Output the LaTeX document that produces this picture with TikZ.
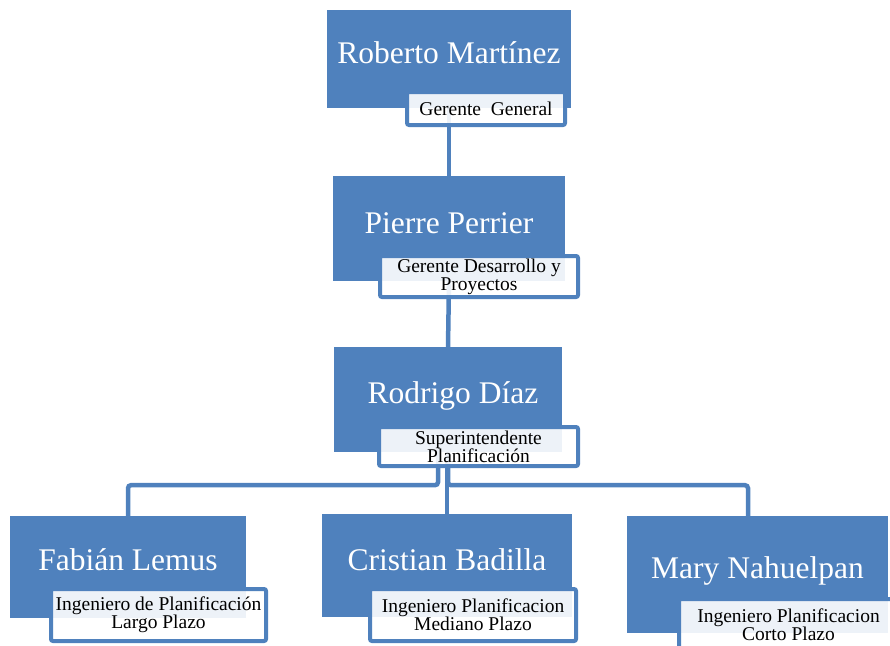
\documentclass[tikz,border=0pt]{standalone}
\usepackage{fontspec}
\setmainfont{Liberation Serif}
\definecolor{obl}{HTML}{4F81BD}
\begin{document}
\begin{tikzpicture}[x=1pt,y=-1pt,
  bigbox/.style={draw=none, fill=obl, inner sep=0pt},
  namet/.style={text=white, font=\fontsize{31.5}{34}\selectfont, anchor=base, inner sep=0pt},
  labbox/.style={draw=obl, line width=4pt, fill=white, fill opacity=0.9, text opacity=1, rounded corners=2pt, inner sep=0pt, align=center, font=\fontsize{19.5}{18}\selectfont},
  conn/.style={draw=obl, line width=4.5pt}]
\useasboundingbox (0,0) rectangle (890,645);
% boxes
\node[bigbox, minimum width=244pt, minimum height=98pt] (B1) at (449,59) {};
\node[bigbox, minimum width=232pt, minimum height=105pt] (B2) at (449,228.5) {};
\node[bigbox, minimum width=228pt, minimum height=105pt] (B3) at (448,399.5) {};
\node[bigbox, minimum width=236pt, minimum height=102pt] (B4) at (128,567) {};
\node[bigbox, minimum width=250pt, minimum height=103pt] (B5) at (447,565.5) {};
\node[bigbox, minimum width=261pt, minimum height=117pt] (B6) at (757.5,574.5) {};
% connectors
\draw[conn] (B1.south) -- (B2.north);
\draw[conn] (B2.south) -- (B3.north);
\draw[conn, rounded corners=3pt] ([xshift=-10pt]B3.south) -- ++(0,33) -| (B4.north);
\draw[conn] (B3.south -| B5.north) -- (B5.north);
\draw[conn, rounded corners=3pt] (B3.south) -- ++(0,33) -| ([xshift=-9.5pt]B6.north);
% redraw boxes over connectors
\fill[obl] (B1.north west) rectangle (B1.south east);
\fill[obl] (B2.north west) rectangle (B2.south east);
\fill[obl] (B3.north west) rectangle (B3.south east);
\fill[obl] (B4.north west) rectangle (B4.south east);
\fill[obl] (B5.north west) rectangle (B5.south east);
\fill[obl] (B6.north west) rectangle (B6.south east);
% names
\node[namet] (N1) at (449,63) {Roberto Martínez};
\node[namet] (N2) at (449,233) {Pierre Perrier};
\node[namet] (N3) at (453,403) {Rodrigo Díaz};
\node[namet] (N4) at (128,570) {Fabián Lemus};
\node[namet] (N5) at (447,570) {Cristian Badilla};
\node[namet] (N6) at (757.5,578) {Mary Nahuelpan};
% labels
\node[labbox, minimum width=158pt, minimum height=33pt] (L1) at (486,108.5) {Gerente\ \ General};
\node[labbox, minimum width=198pt, minimum height=41pt] (L2) at (479,276.5) {Gerente Desarrollo y\\Proyectos};
\node[labbox, minimum width=199pt, minimum height=39pt] (L3) at (478.5,446.5) {Superintendente\\Planificación};
\node[labbox, minimum width=215pt, minimum height=52pt] (L4) at (158.5,615) {Ingeniero de Planificación\\Largo Plazo};
\node[labbox, minimum width=206pt, minimum height=52pt] (L5) at (473,615) {Ingeniero Planificacion\\Mediano Plazo};
\node[labbox, minimum width=219pt, minimum height=52pt] (L6) at (788.5,625) {Ingeniero Planificacion\\Corto Plazo};
\end{tikzpicture}
\end{document}
